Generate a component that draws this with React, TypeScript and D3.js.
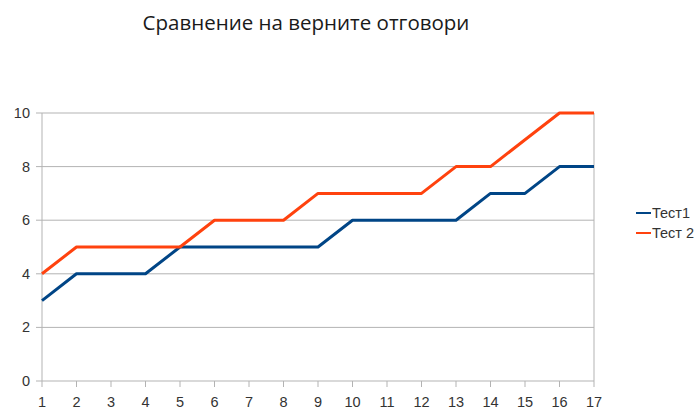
import React from "react";
import * as d3 from "d3";

const categories = [1, 2, 3, 4, 5, 6, 7, 8, 9, 10, 11, 12, 13, 14, 15, 16, 17];
const test1 = [3, 4, 4, 4, 5, 5, 5, 5, 5, 6, 6, 6, 6, 7, 7, 8, 8];
const test2 = [4, 5, 5, 5, 5, 6, 6, 6, 7, 7, 7, 7, 8, 8, 9, 10, 10];
const yTicks = [0, 2, 4, 6, 8, 10];
const seriesNames = ["Тест1", "Тест 2"];
const colors = ["#004586", "#ff420e"];

export default function App() {
  const W = 699, H = 413;
  const x = d3.scaleLinear().domain([1, 17]).range([42, 594]);
  const y = d3.scaleLinear().domain([0, 10]).range([381, 113]);
  const line = d3.line<number>().x((_, i) => x(categories[i])).y(d => y(d));
  const series = [test1, test2];
  const grid = "#b3b3b3";
  const font = "'Liberation Sans', Arial, sans-serif";
  return (
    <svg width={W} height={H} style={{ position: "absolute", left: 0, top: 0, background: "#fff" }}>
      <text x={306} y={30} textAnchor="middle" fontFamily="'Open Sans', 'Noto Sans', sans-serif" fontSize={20.5} fill="#1a1a1a">
        Сравнение на верните отговори
      </text>
      {yTicks.map(t => (
        <g key={t}>
          <line x1={36} x2={594} y1={y(t)} y2={y(t)} stroke={grid} strokeWidth={1} />
          <text x={30} y={y(t) + 5} textAnchor="end" fontFamily={font} fontSize={14.5} fill="#333">{t}</text>
        </g>
      ))}
      <line x1={x(1)} x2={x(1)} y1={y(10)} y2={y(0)} stroke={grid} strokeWidth={1} />
      <line x1={x(17)} x2={x(17)} y1={y(10)} y2={y(0)} stroke={grid} strokeWidth={1} />
      {categories.map(c => (
        <g key={c}>
          <line x1={x(c)} x2={x(c)} y1={y(0)} y2={y(0) + 6} stroke={grid} strokeWidth={1} />
          <text x={x(c)} y={407} textAnchor="middle" fontFamily={font} fontSize={14.5} fill="#333">{c}</text>
        </g>
      ))}
      {series.map((s, i) => (
        <path key={i} d={line(s) || ""} fill="none" stroke={colors[i]} strokeWidth={3} strokeLinejoin="round" />
      ))}
      {seriesNames.map((n, i) => (
        <g key={n}>
          <line x1={636} x2={651} y1={213 + i * 20} y2={213 + i * 20} stroke={colors[i]} strokeWidth={2} />
          <text x={652} y={218 + i * 20} fontFamily={font} fontSize={14.5} fill="#333">{n}</text>
        </g>
      ))}
    </svg>
  );
}
